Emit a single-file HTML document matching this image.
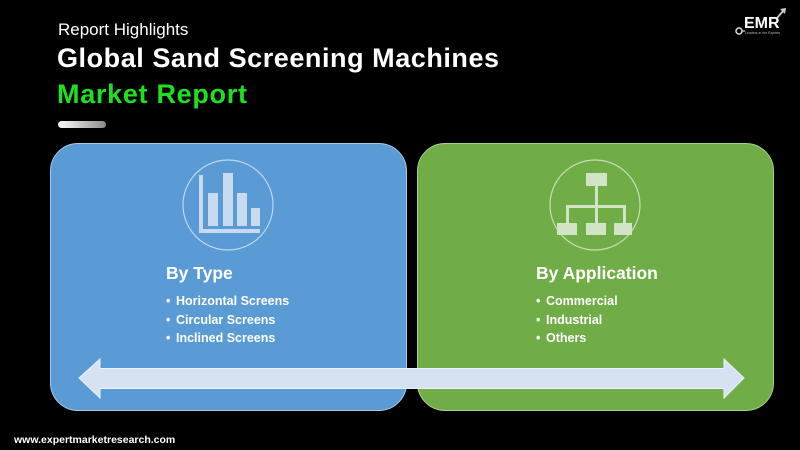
<!DOCTYPE html>
<html>
<head>
<meta charset="utf-8">
<style>
html,body{margin:0;padding:0;background:#000;}
body{width:800px;height:450px;position:relative;overflow:hidden;font-family:"Liberation Sans",Arial,sans-serif;}
.abs{position:absolute;}
.h1{left:58px;top:20px;color:#fff;font-size:17px;font-weight:300;white-space:nowrap;}
.h2{left:57px;top:43px;color:#fff;font-size:27px;font-weight:bold;letter-spacing:0.55px;white-space:nowrap;}
.h3{left:57px;top:79px;color:#1fe01f;font-size:27px;font-weight:bold;letter-spacing:0.7px;white-space:nowrap;}
.pill{left:58px;top:121px;width:48px;height:7px;border-radius:4px;background:linear-gradient(90deg,#ffffff,#8a8a8a);}
.panel{top:143px;height:268px;border-radius:28px;box-sizing:border-box;}
.blue{left:50px;width:357px;background:#5b9bd5;border:1.5px solid #a9c8ea;}
.green{left:417px;width:357px;background:#70ad47;border:1.5px solid #a9d08e;}
.head{color:#fff;font-size:17.5px;font-weight:bold;white-space:nowrap;}
ul{margin:0;padding:0;list-style:none;}
li{color:#fff;font-size:12.5px;font-weight:bold;height:18.5px;line-height:19px;white-space:nowrap;position:relative;padding-left:10px;}
li:before{content:"•";position:absolute;left:0;top:0;}
.foot{left:14px;top:434px;color:#fff;font-size:10.5px;font-weight:bold;white-space:nowrap;}
</style>
</head>
<body>
<div class="abs h1">Report Highlights</div>
<div class="abs h2">Global Sand Screening Machines</div>
<div class="abs h3">Market Report</div>
<div class="abs pill"></div>

<!-- EMR logo -->
<svg class="abs" style="left:730px;top:0px" width="70" height="45" viewBox="0 0 70 45">
  <text x="14" y="28" fill="#fff" font-family="Liberation Sans, Arial, sans-serif" font-weight="bold" font-size="16">EMR</text>
  <text x="15" y="34" fill="#bbb" font-family="Liberation Sans, Arial, sans-serif" font-size="3.5">Leaders in the Experts</text>
  <circle cx="9" cy="31" r="3" fill="none" stroke="#ddd" stroke-width="1.5"/>
  <line x1="12" y1="31" x2="15" y2="31" stroke="#ddd" stroke-width="1.2"/>
  <line x1="47" y1="18" x2="54" y2="10" stroke="#ccc" stroke-width="1.8"/>
  <polygon points="50,9 56,8 55,14" fill="#ccc"/>
</svg>

<div class="abs panel blue"></div>
<div class="abs panel green"></div>

<!-- icons -->
<svg class="abs" style="left:0;top:0" width="800" height="450" viewBox="0 0 800 450">
  <circle cx="228" cy="205" r="45" fill="none" stroke="rgba(255,255,255,0.6)" stroke-width="1.2"/>
  <g fill="#c8daf0">
    <rect x="199" y="175" width="4" height="58"/>
    <rect x="199" y="229" width="61" height="4"/>
    <rect x="208" y="193" width="10" height="33"/>
    <rect x="223" y="173" width="10" height="53"/>
    <rect x="237" y="193" width="10" height="33"/>
    <rect x="251" y="208" width="9" height="18"/>
  </g>
  <circle cx="595" cy="205" r="45" fill="none" stroke="rgba(255,255,255,0.6)" stroke-width="1.2"/>
  <g fill="#d2e4c6">
    <rect x="586" y="173" width="21" height="13"/>
    <rect x="595" y="186" width="3" height="37"/>
    <rect x="566" y="205" width="60" height="3"/>
    <rect x="566" y="205" width="3" height="18"/>
    <rect x="623" y="205" width="3" height="18"/>
    <rect x="557" y="223" width="20" height="12"/>
    <rect x="586" y="223" width="20" height="12"/>
    <rect x="614" y="223" width="18" height="12"/>
  </g>
  <!-- double arrow -->
  <polygon points="79,378 100,359 100,368.5 724,368.5 724,359 744,378 724,398 724,388.5 100,388.5 100,398" fill="#d6e2f1" stroke="#eef3fa" stroke-width="1"/>
</svg>

<div class="abs head" style="left:166px;top:263px;">By Type</div>
<ul class="abs" style="left:166px;top:292px;">
  <li>Horizontal Screens</li>
  <li>Circular Screens</li>
  <li>Inclined Screens</li>
</ul>

<div class="abs head" style="left:536px;top:263px;">By Application</div>
<ul class="abs" style="left:536px;top:292px;">
  <li>Commercial</li>
  <li>Industrial</li>
  <li>Others</li>
</ul>

<div class="abs foot">www.expertmarketresearch.com</div>
</body>
</html>
